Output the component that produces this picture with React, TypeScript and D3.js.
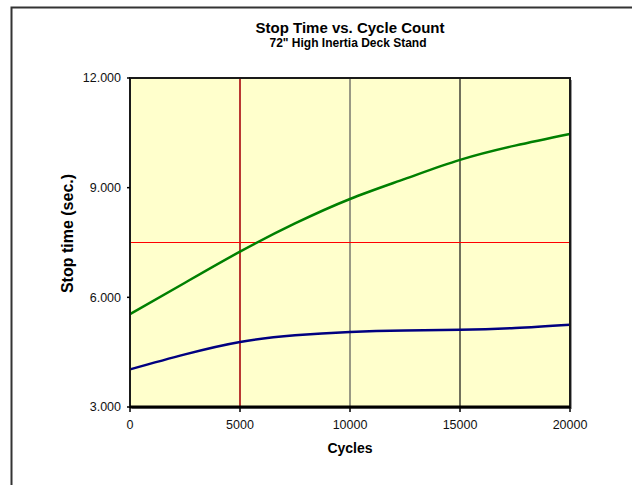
import React from "react";
import * as d3 from "d3";

const width = 632;
const height = 485;
const margin = { top: 78, right: 62, bottom: 78, left: 130 };

const cycles = [0, 2500, 5000, 7500, 10000, 12500, 15000, 17500, 20000];
const upperStop = [5.54, 6.4, 7.25, 8.02, 8.69, 9.24, 9.76, 10.15, 10.47];
const lowerStop = [4.03, 4.44, 4.78, 4.96, 5.05, 5.09, 5.11, 5.16, 5.25];
const xTicks = [0, 5000, 10000, 15000, 20000];
const yTicks = [3, 6, 9, 12];
const limitTime = 7.5;
const limitCycles = 5000;

const font = "'Liberation Sans', Arial, sans-serif";

export default function App() {
  const iw = width - margin.left - margin.right;
  const ih = height - margin.top - margin.bottom;

  const x = d3.scaleLinear().domain([0, 20000]).range([0, iw]);
  const y = d3.scaleLinear().domain([3, 12]).range([ih, 0]);

  const line = (vals: number[]) =>
    d3
      .line<number>()
      .x((_, i) => x(cycles[i]))
      .y(d => y(d))
      .curve(d3.curveNatural)(vals) || "";

  return (
    <svg
      width={width}
      height={height}
      style={{ position: "absolute", left: 0, top: 0 }}
      fontFamily={font}
    >
      <rect x={0} y={0} width={width} height={height} fill="#fff" />
      <rect x={11.5} y={7.5} width={width + 10} height={height + 10} fill="none" stroke="#333" strokeWidth={2} />

      <text x={350} y={33} textAnchor="middle" fontSize={15} fontWeight="bold">
        Stop Time vs. Cycle Count
      </text>
      <text x={348} y={47} textAnchor="middle" fontSize={12} fontWeight="bold">
        72" High Inertia Deck Stand
      </text>

      <g transform={`translate(${margin.left},${margin.top})`}>
        <rect x={2} y={2} width={iw} height={ih} fill="#999" />
        <rect x={0} y={0} width={iw} height={ih} fill="#FFFFCC" />

        {xTicks.slice(1, -1).map(t => (
          <line
            key={t}
            x1={x(t)}
            x2={x(t)}
            y1={0}
            y2={ih}
            stroke={t === limitCycles ? "#B22222" : t === 10000 ? "#555" : "#111"}
            strokeWidth={t === limitCycles ? 1.8 : 1.2}
          />
        ))}
        <line x1={0} x2={iw} y1={y(limitTime)} y2={y(limitTime)} stroke="#FF0000" strokeWidth={1.2} />

        <path d={line(upperStop)} fill="none" stroke="#008000" strokeWidth={2.5} />
        <path d={line(lowerStop)} fill="none" stroke="#000080" strokeWidth={2.5} />

        <rect x={0} y={0} width={iw} height={ih} fill="none" stroke="#1a1a1a" strokeWidth={2} />
        <line x1={0} x2={iw} y1={ih} y2={ih} stroke="#000" strokeWidth={3} />

        {xTicks.map(t => (
          <g key={t} transform={`translate(${x(t)},${ih})`}>
            <line y1={0} y2={5} stroke="#000" strokeWidth={1.5} />
            <text y={22} textAnchor="middle" fontSize={12.5} fill="#111">
              {t}
            </text>
          </g>
        ))}
        {yTicks.map(t => (
          <g key={t} transform={`translate(0,${y(t)})`}>
            <line x1={-3} x2={0} stroke="#000" strokeWidth={1.5} />
            <text x={-9} dy="0.35em" textAnchor="end" fontSize={12.5} fill="#111">
              {d3.format(".3f")(t)}
            </text>
          </g>
        ))}

        <text x={iw / 2} y={ih + 46} textAnchor="middle" fontSize={14} fontWeight="bold">
          Cycles
        </text>
        <text
          transform={`translate(${-57},${ih / 2 - 9}) rotate(-90)`}
          textAnchor="middle"
          fontSize={16}
          fontWeight="bold"
        >
          Stop time (sec.)
        </text>
      </g>
    </svg>
  );
}
